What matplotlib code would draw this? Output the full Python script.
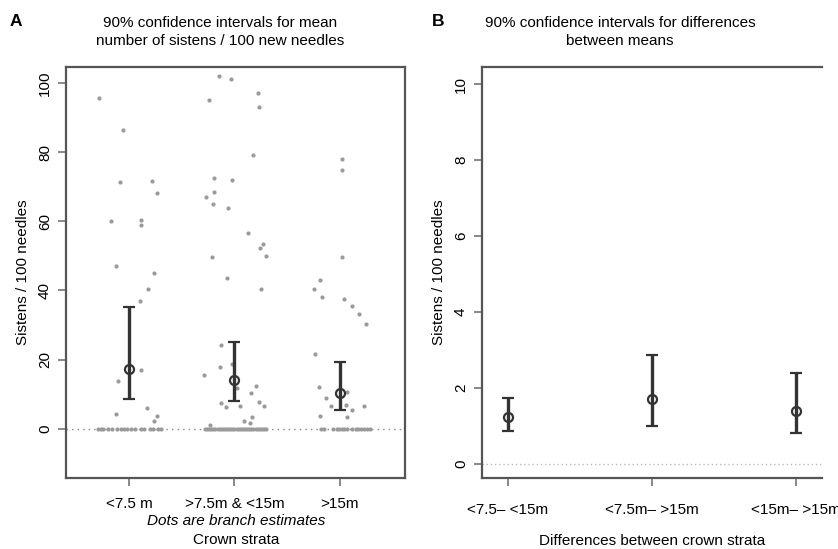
import numpy as np
import matplotlib
matplotlib.use("Agg")
import matplotlib.pyplot as plt

plt.rcParams['font.family'] = ['Liberation Sans', 'DejaVu Sans']

# ---- panel A data ----
strata = ['<7.5 m', '>7.5m & <15m', '>15m']
mean_a = [17.3, 14.2, 10.3]
low_a = [8.6, 8.1, 5.5]
up_a = [35.1, 25.2, 19.3]

# branch estimates (x position, value)
g1_x = [0.714, 0.946, 0.911, 1.216, 1.26, 0.826, 1.117, 1.117, 0.873, 1.235, 1.181, 1.10,
        1.117, 0.898, 0.873, 1.174, 1.26, 1.24]
g1_y = [95.5, 86.4, 71.4, 71.6, 68.2, 60.0, 60.3, 58.8, 47.1, 45.1, 40.4, 37.0,
        16.9, 13.8, 4.3, 6.0, 3.7, 2.2]
g1_zero_x = [0.70, 0.73, 0.75, 0.80, 0.84, 0.88, 0.92, 0.95, 0.98, 1.02, 1.06, 1.11,
             1.14, 1.20, 1.23, 1.27, 1.30]

g2_x = [1.857, 1.968, 1.762, 2.222, 2.229, 2.175, 1.806, 1.975, 1.810, 1.730, 1.794, 1.940,
        2.130, 2.267, 2.238, 2.302, 1.784, 1.933, 2.254, 1.873, 1.975, 1.860, 1.711, 2.022,
        2.20, 2.159, 1.876, 1.921, 2.048, 2.229, 2.283, 2.168, 2.095, 2.143, 1.77]
g2_y = [102.1, 101.2, 95.2, 97.2, 93.0, 79.2, 72.6, 71.8, 68.4, 66.9, 65.0, 63.9,
        56.6, 53.4, 52.4, 50.1, 49.7, 43.7, 40.4, 24.1, 18.8, 18.0, 15.6, 11.8,
        12.5, 10.4, 7.5, 6.4, 6.6, 7.9, 6.7, 3.4, 2.4, 1.8, 1.2]
g2_zero_x = [1.72, 1.74, 1.76, 1.78, 1.80, 1.82, 1.84, 1.86, 1.88, 1.90, 1.92, 1.94,
             1.96, 1.98, 2.00, 2.02, 2.04, 2.06, 2.08, 2.10, 2.12, 2.14, 2.16, 2.18,
             2.20, 2.22, 2.24, 2.26, 2.28, 2.30]

g3_x = [3.026, 3.026, 3.026, 2.81, 2.755, 2.829, 3.045, 3.117, 3.184, 3.248, 2.768, 2.803,
        3.07, 2.867, 2.914, 3.064, 3.232, 3.114, 2.816, 3.073]
g3_y = [78.1, 74.9, 49.8, 43.0, 40.5, 38.1, 37.5, 35.5, 33.3, 30.3, 21.5, 12.1,
        10.7, 8.8, 6.6, 6.8, 6.7, 5.4, 3.6, 3.3]
g3_zero_x = [2.82, 2.85, 2.94, 2.97, 2.99, 3.02, 3.04, 3.07, 3.12, 3.15, 3.17, 3.20,
             3.23, 3.26, 3.29]

# ---- panel B data ----
diffs = ['<7.5\u2013 <15m', '<7.5m\u2013 >15m', '<15m\u2013 >15m']
mean_b = [1.23, 1.72, 1.40]
low_b = [0.88, 1.01, 0.82]
up_b = [1.73, 2.88, 2.40]

W, H = 838, 549
fig = plt.figure(figsize=(W / 100, H / 100), dpi=100)

spine_c = '#555555'
tick_c = '#888888'
bar_c = '#333333'
dot_c = '#9a9a9a'
fs = 11


def style(ax):
    for s in ax.spines.values():
        s.set_color(spine_c)
        s.set_linewidth(1.6)
    ax.tick_params(axis='both', direction='out', length=6, width=1.4, color=tick_c,
                   labelsize=fs, pad=4)
    ax.tick_params(axis='x', pad=8)
    for lab in ax.get_yticklabels():
        lab.set_rotation(90)
        lab.set_va('center')


# panel A
axA = fig.add_axes([66 / W, 1 - 478 / H, 339 / W, 411 / H])
axA.axhline(0, color='#888888', lw=1.0, ls=(0, (1, 3)), zorder=1)
for gx, gy in [(g1_x, g1_y), (g2_x, g2_y), (g3_x, g3_y)]:
    axA.scatter(gx, gy, s=9, color=dot_c, lw=0, zorder=2)
for gz in [g1_zero_x, g2_zero_x, g3_zero_x]:
    axA.scatter(gz, np.zeros(len(gz)), s=9, color=dot_c, lw=0, zorder=2)
xa = np.arange(1, len(strata) + 1)
axA.errorbar(xa, mean_a, yerr=[np.subtract(mean_a, low_a), np.subtract(up_a, mean_a)],
             fmt='o', ms=6.5, mfc='none', mec=bar_c, mew=1.6, ecolor=bar_c, elinewidth=2.4,
             capsize=4.2, capthick=2.2, zorder=3)
axA.set_xlim(0.4, 3.62)
axA.set_ylim(-14.2, 104.6)
axA.set_xticks(xa)
axA.set_xticklabels(strata)
axA.set_yticks([0, 20, 40, 60, 80, 100])
style(axA)
axA.set_ylabel('Sistens / 100 needles', fontsize=fs, labelpad=6)
fig.text(236 / W, 1 - 521 / H, 'Dots are branch estimates', style='italic', fontsize=fs,
         ha='center', va='center')
fig.text(236 / W, 1 - 540 / H, 'Crown strata', fontsize=fs, ha='center', va='center')
fig.text(220 / W, 1 - 32 / H, '90% confidence intervals for mean\nnumber of sistens / 100 new needles',
         fontsize=fs, ha='center', va='center', linespacing=1.3)
fig.text(10 / W, 1 - 22 / H, 'A', fontsize=12.5, weight='bold', ha='left', va='center')

# panel B
axB = fig.add_axes([482 / W, 1 - 478 / H, 340 / W, 411 / H])
axB.axhline(0, color='#bbbbbb', lw=1.0, ls=(0, (1, 2)), zorder=1)
xb = np.arange(1, len(diffs) + 1)
axB.errorbar(xb, mean_b, yerr=[np.subtract(mean_b, low_b), np.subtract(up_b, mean_b)],
             fmt='o', ms=6.5, mfc='none', mec=bar_c, mew=1.6, ecolor=bar_c, elinewidth=2.4,
             capsize=4.2, capthick=2.2, zorder=3)
axB.set_xlim(0.82, 3.18)
axB.set_ylim(-0.37, 10.45)
axB.set_xticks(xb)
axB.set_xticklabels(diffs)
axB.set_yticks([0, 2, 4, 6, 8, 10])
style(axB)
axB.tick_params(axis='x', pad=12)
axB.spines['right'].set_visible(False)
axB.set_ylabel('Sistens / 100 needles', fontsize=fs, labelpad=6)
fig.text(652 / W, 1 - 541 / H, 'Differences between crown strata', fontsize=fs,
         ha='center', va='center')
fig.text(620 / W, 1 - 32 / H, '90% confidence intervals for differences\nbetween means',
         fontsize=fs, ha='center', va='center', linespacing=1.3)
fig.text(432 / W, 1 - 22 / H, 'B', fontsize=12.5, weight='bold', ha='left', va='center')

fig.savefig('out.png', dpi=100, facecolor='white')
